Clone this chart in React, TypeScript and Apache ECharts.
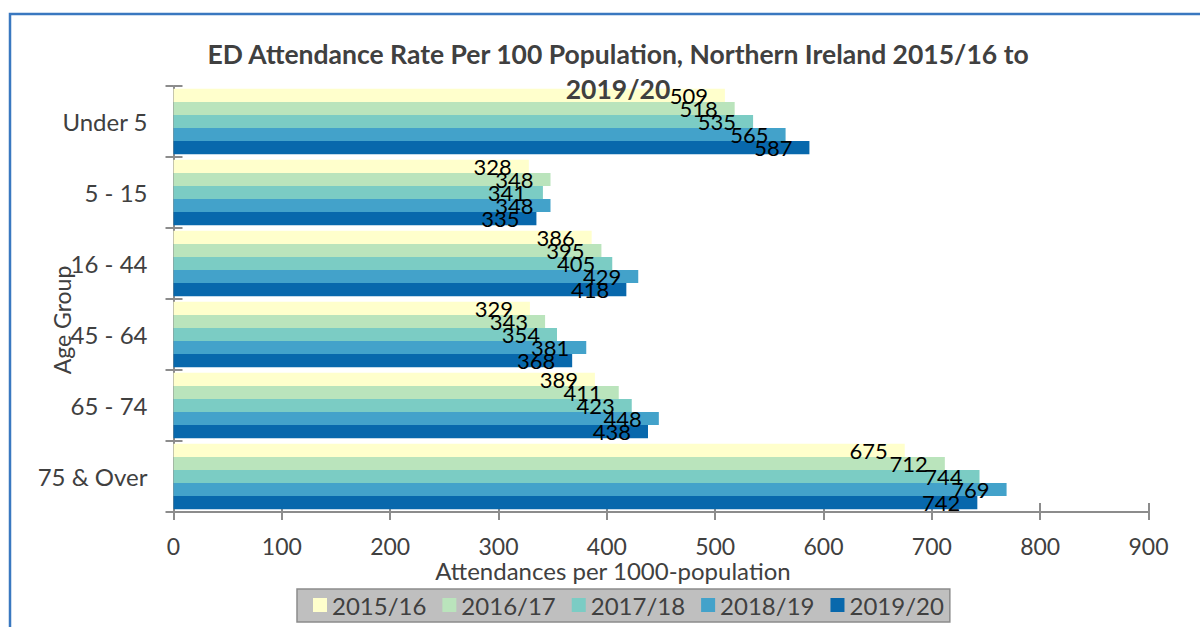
import React, { useEffect, useRef } from "react";
import * as echarts from "echarts";

const categories = ["Under 5", "5 - 15", "16 - 44", "45 - 64", "65 - 74", "75 & Over"];
const seriesNames = ["2015/16", "2016/17", "2017/18", "2018/19", "2019/20"];
const colors = ["#ffffcc", "#bae4bc", "#7bccc4", "#43a2ca", "#0868ac"];
const v2015 = [509, 328, 386, 329, 389, 675];
const v2016 = [518, 348, 395, 343, 411, 712];
const v2017 = [535, 341, 405, 354, 423, 744];
const v2018 = [565, 348, 429, 381, 448, 769];
const v2019 = [587, 335, 418, 368, 438, 742];
const seriesValues = [v2015, v2016, v2017, v2018, v2019];
const xTicks = { min: 0, max: 900, interval: 100 };

const FONT = "Lato";
const AXIS_COLOR = "#8c8c8c";
const TEXT_COLOR = "#404040";

export default function App() {
  const ref = useRef<HTMLDivElement>(null);
  useEffect(() => {
    if (!ref.current) return;
    const chart = echarts.init(ref.current, undefined, { renderer: "svg" });
    const option: any = {
      animation: false,
      backgroundColor: "#ffffff",
      textStyle: { fontFamily: FONT },
      title: {
        text: "ED Attendance Rate Per 100 Population, Northern Ireland 2015/16 to\n2019/20",
        left: 613,
        top: 31,
        textAlign: "center",
        textStyle: {
          fontFamily: FONT,
          fontWeight: "bold",
          fontSize: 26.5,
          lineHeight: 35,
          color: TEXT_COLOR,
        },
        z: 10,
      },
      grid: { left: 173.5, right: 51.5, top: 86, bottom: 115, containLabel: false },
      legend: {
        data: seriesNames,
        left: 297,
        top: 589,
        orient: "horizontal",
        itemWidth: 14,
        itemHeight: 14,
        itemGap: 16,
        icon: "rect",
        padding: [4, 6, 5, 16],
        backgroundColor: "#bfbfbf",
        borderColor: "#8c8c8c",
        borderWidth: 1.5,
        textStyle: { fontFamily: FONT, fontSize: 24, color: TEXT_COLOR },
      },
      xAxis: [
        {
          type: "value",
          min: xTicks.min,
          max: xTicks.max,
          interval: xTicks.interval,
          position: "bottom",
          splitLine: { show: false },
          axisLine: { show: true, lineStyle: { color: AXIS_COLOR, width: 2 } },
          axisTick: { show: true, length: 8, lineStyle: { color: AXIS_COLOR, width: 2 } },
          axisLabel: { margin: 22, fontFamily: FONT, fontSize: 23, color: TEXT_COLOR },
        },
        {
          type: "value",
          min: xTicks.min,
          max: xTicks.max,
          interval: xTicks.interval,
          position: "bottom",
          offset: 0,
          splitLine: { show: false },
          axisLine: { show: false },
          axisTick: { show: true, inside: true, length: 9, lineStyle: { color: AXIS_COLOR, width: 2 } },
          axisLabel: { show: false },
        },
      ],
      yAxis: [
        {
          type: "category",
          data: categories,
          inverse: true,
          position: "left",
          axisLine: { show: true, lineStyle: { color: AXIS_COLOR, width: 2 } },
          axisTick: { show: true, length: 8, lineStyle: { color: AXIS_COLOR, width: 2 } },
          axisLabel: { margin: 26, fontFamily: FONT, fontSize: 24, color: TEXT_COLOR },
        },
        {
          type: "category",
          data: categories,
          inverse: true,
          position: "left",
          offset: 0,
          axisLine: { show: false },
          axisTick: { show: true, inside: true, length: 9, lineStyle: { color: AXIS_COLOR, width: 2 } },
          axisLabel: { show: false },
        },
      ],
      graphic: [
        {
          type: "rect",
          shape: { x: 10, y: 14, width: 1300, height: 800 },
          style: { fill: "none", stroke: "#3a78c0", lineWidth: 2.5 },
          silent: true,
          z: 100,
        },
        {
          type: "text",
          x: 62,
          y: 320,
          rotation: Math.PI / 2,
          style: {
            text: "Age Group",
            fontFamily: FONT,
            fontSize: 23,
            fill: TEXT_COLOR,
            textAlign: "center",
            textVerticalAlign: "middle",
          },
        },
        {
          type: "text",
          x: 613,
          y: 570,
          style: {
            text: "Attendances per 1000-population",
            fontFamily: FONT,
            fontSize: 24,
            fill: TEXT_COLOR,
            textAlign: "center",
            textVerticalAlign: "middle",
          },
        },
      ],
      series: seriesNames.map((name, i) => ({
        name,
        type: "bar",
        xAxisIndex: 0,
        yAxisIndex: 0,
        data: seriesValues[i],
        barGap: "0%",
        barCategoryGap: "8%",
        itemStyle: { color: colors[i] },
        label: {
          show: true,
          position: "insideRight",
          distance: 17,
          offset: [0, 1],
          color: "#000000",
          fontFamily: FONT,
          fontSize: 22,
        },
        labelLayout: { moveOverlap: false },
        z: 2,
      })),
    };
    chart.setOption(option);
    return () => chart.dispose();
  }, []);
  return (
    <div
      ref={ref}
      style={{ position: "absolute", left: 0, top: 0, width: 1200, height: 627 }}
    />
  );
}
